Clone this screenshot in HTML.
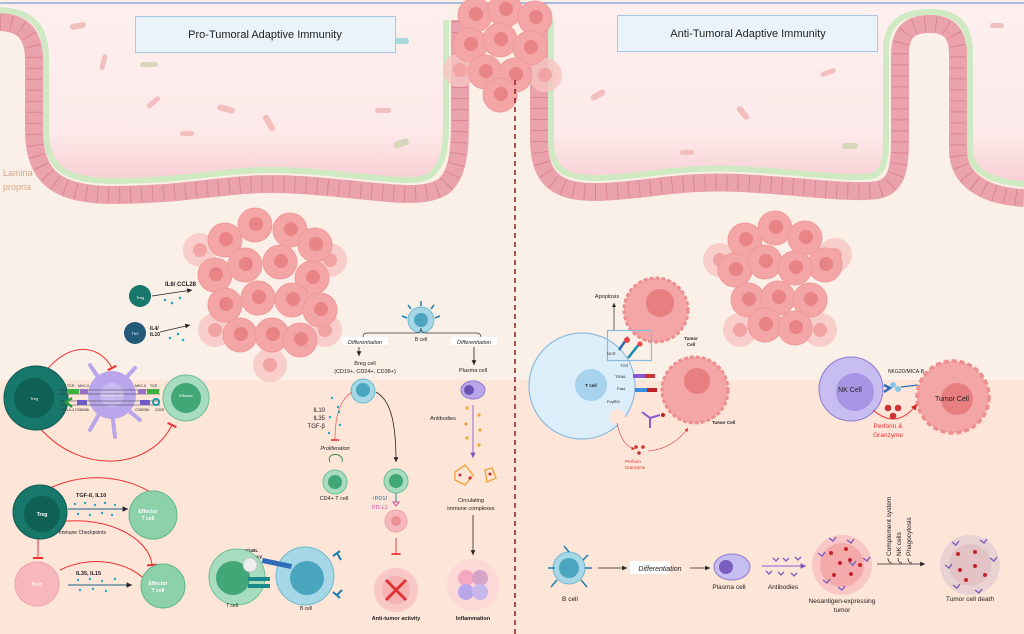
<!DOCTYPE html>
<html><head><meta charset="utf-8"><style>
html,body{margin:0;padding:0;background:#fbf0e8}
svg{display:block}
text{font-family:"Liberation Sans",sans-serif}
</style></head><body>
<svg width="1024" height="634" viewBox="0 0 1024 634" xmlns="http://www.w3.org/2000/svg">
<defs>
<linearGradient id="lum" x1="0" y1="0" x2="0" y2="1"><stop offset="0" stop-color="#fdf0ef"/><stop offset="0.72" stop-color="#fde9e9"/><stop offset="1" stop-color="#f8cdd3"/></linearGradient>
<g id="tc"><circle r="17" fill="#f4a5a5" stroke="#f09a9a" stroke-width="1"/><circle r="7" cx="1" cy="-1" fill="#e98486"/></g>
<g id="tcl"><circle r="17" fill="#f8c4c2" opacity="0.8"/><circle r="7" fill="#f2a4a4"/></g>
<marker id="ar" markerWidth="8" markerHeight="8" refX="6" refY="3" orient="auto"><path d="M0,0 L6,3 L0,6z" fill="#222"/></marker>
<marker id="arr" markerWidth="8" markerHeight="8" refX="6" refY="3" orient="auto"><path d="M0,0 L6,3 L0,6z" fill="#d22"/></marker>
<marker id="arp" markerWidth="8" markerHeight="8" refX="6" refY="3" orient="auto"><path d="M0,0 L6,3 L0,6z" fill="#7a4fc0"/></marker>
<marker id="tb" markerWidth="8" markerHeight="10" refX="2" refY="5" orient="auto"><path d="M2,0 L2,10" stroke="#e33" stroke-width="2"/></marker>
</defs>
<rect width="1024" height="634" fill="#fbf0e8"/>
<rect y="380" width="1024" height="254" fill="#fde5d8"/>
<!-- lumens -->
<path d="M0,8 C40,10 48,30 48,60 L48,130 C48,170 65,182 110,183 C200,183 230,168 300,173 C380,178 420,190 436,174 C446,162 448,150 448,120 L448,5 L0,5z" fill="url(#lum)"/>
<path d="M549,5 L549,140 C549,172 565,181 600,180 C650,178 680,168 740,171 C800,174 850,182 872,178 C886,174 888,160 888,140 L888,50 C888,15 910,10 930,10 C955,10 972,18 972,55 L972,150 C972,172 990,184 1024,186 L1024,5z" fill="url(#lum)"/>
<line x1="0" y1="3" x2="1024" y2="3" stroke="#8fa8d8" stroke-width="1.5"/>
<!-- green mucus -->
<g fill="none" stroke="#cfe9c2" stroke-width="6">
<path d="M0,10 C38,12 46,32 46,60 L46,130 C46,168 65,180 110,181 C200,181 230,166 300,171 C380,176 420,188 434,172 C444,160 446,150 446,120 L446,20"/>
<path d="M551,20 L551,140 C551,170 565,179 600,178 C650,176 680,166 740,169 C800,172 850,180 872,176 C884,172 886,160 886,140 L886,50 C886,17 910,12 930,12 C953,12 970,20 970,55 L970,150 C970,170 990,182 1024,184"/>
</g>
<!-- epithelium -->
<g fill="none" stroke="#eaa3ad" stroke-width="18">
<path id="ep1" d="M0,22 C26,23 34,38 34,60 L34,130 C34,178 58,194 110,195 C200,195 230,180 300,185 C380,190 420,202 444,186 C458,174 460,150 460,120 L460,20"/>
<path id="ep2" d="M539,20 L539,140 C539,182 560,193 600,192 C650,190 680,180 740,183 C800,186 850,194 878,190 C896,186 900,170 900,140 L900,55 C900,30 912,24 930,24 C948,24 958,32 958,55 L958,150 C958,180 985,196 1024,198"/>
</g>
<g fill="none" stroke="#d98591" stroke-width="16" stroke-dasharray="1 10">
<path d="M0,22 C26,23 34,38 34,60 L34,130 C34,178 58,194 110,195 C200,195 230,180 300,185 C380,190 420,202 444,186 C458,174 460,150 460,120 L460,20"/>
<path d="M539,20 L539,140 C539,182 560,193 600,192 C650,190 680,180 740,183 C800,186 850,194 878,190 C896,186 900,170 900,140 L900,55 C900,30 912,24 930,24 C948,24 958,32 958,55 L958,150 C958,180 985,196 1024,198"/>
</g>
<text x="3" y="176" font-size="9" fill="#d6a788">Lamina</text>
<text x="3" y="190" font-size="9" fill="#d6a788">propria</text>
<!-- bacteria -->
<g fill="#f0b4b4" opacity="0.8">
<rect x="70" y="23" width="16" height="6" rx="3" transform="rotate(-10 78 26)"/>
<rect x="95" y="60" width="16" height="5" rx="2.5" transform="rotate(-75 103 62)"/>
<rect x="145" y="100" width="16" height="5" rx="2.5" transform="rotate(-40 153 102)"/>
<rect x="217" y="106" width="18" height="6" rx="3" transform="rotate(15 226 109)"/>
<rect x="260" y="120" width="18" height="6" rx="3" transform="rotate(60 269 123)"/>
<rect x="180" y="131" width="14" height="5" rx="2.5"/>
<rect x="375" y="108" width="16" height="5" rx="2.5"/>
<rect x="590" y="92" width="16" height="6" rx="3" transform="rotate(-30 598 95)"/>
<rect x="735" y="110" width="16" height="6" rx="3" transform="rotate(50 743 113)"/>
<rect x="820" y="70" width="16" height="5" rx="2.5" transform="rotate(-20 828 72)"/>
<rect x="680" y="150" width="14" height="5" rx="2.5"/>
<rect x="990" y="23" width="14" height="5" rx="2.5"/>
</g>
<rect x="140" y="62" width="18" height="5" rx="2.5" fill="#d7d6bc"/>
<rect x="393" y="140" width="16" height="7" rx="3.5" fill="#d7d6bc" transform="rotate(-20 401 143)"/>
<rect x="393" y="38" width="16" height="6" rx="3" fill="#a8d8dc"/>
<rect x="842" y="143" width="16" height="6" rx="3" fill="#d7d6bc"/>
<!-- titles -->
<rect x="135.5" y="16.5" width="260" height="36" fill="#eaf3fa" stroke="#a9c6e4"/>
<text x="265" y="38" font-size="11" text-anchor="middle" fill="#222">Pro-Tumoral Adaptive Immunity</text>
<rect x="617.5" y="15.5" width="260" height="36" fill="#eaf3fa" stroke="#a9c6e4"/>
<text x="748" y="37" font-size="11" text-anchor="middle" fill="#222">Anti-Tumoral Adaptive Immunity</text>
<!-- top tumor -->
<g>
<use href="#tcl" x="460" y="70"/><use href="#tcl" x="545" y="75"/>
<use href="#tc" x="475" y="15"/><use href="#tc" x="505" y="10"/><use href="#tc" x="535" y="18"/>
<use href="#tc" x="470" y="45"/><use href="#tc" x="500" y="40"/><use href="#tc" x="530" y="48"/>
<use href="#tc" x="485" y="72"/><use href="#tc" x="515" y="75"/><use href="#tc" x="500" y="95"/>
</g>
<line x1="515" y1="80" x2="515" y2="634" stroke="#9a2b2b" stroke-width="1.6" stroke-dasharray="5 4"/>
<!-- left tumor cluster -->
<g>
<use href="#tcl" x="200" y="250"/><use href="#tcl" x="330" y="260"/><use href="#tcl" x="215" y="330"/><use href="#tcl" x="325" y="330"/><use href="#tcl" x="270" y="365"/>
<use href="#tc" x="225" y="240"/><use href="#tc" x="255" y="225"/><use href="#tc" x="290" y="230"/><use href="#tc" x="315" y="245"/>
<use href="#tc" x="215" y="275"/><use href="#tc" x="245" y="265"/><use href="#tc" x="280" y="262"/><use href="#tc" x="312" y="278"/>
<use href="#tc" x="225" y="305"/><use href="#tc" x="258" y="298"/><use href="#tc" x="292" y="300"/><use href="#tc" x="320" y="310"/>
<use href="#tc" x="240" y="335"/><use href="#tc" x="272" y="335"/><use href="#tc" x="300" y="340"/>
</g>
<!-- right tumor cluster -->
<g>
<use href="#tcl" x="720" y="260"/><use href="#tcl" x="835" y="255"/><use href="#tcl" x="740" y="330"/><use href="#tcl" x="820" y="330"/>
<use href="#tc" x="745" y="240"/><use href="#tc" x="775" y="228"/><use href="#tc" x="805" y="238"/><use href="#tc" x="825" y="265"/>
<use href="#tc" x="735" y="270"/><use href="#tc" x="765" y="262"/><use href="#tc" x="795" y="268"/>
<use href="#tc" x="748" y="300"/><use href="#tc" x="778" y="298"/><use href="#tc" x="810" y="300"/>
<use href="#tc" x="765" y="325"/><use href="#tc" x="795" y="328"/>
</g>
<!-- small Treg, Th2 -->
<circle cx="140" cy="296" r="11" fill="#17776a"/><text x="140" y="299" font-size="4" fill="#fff" text-anchor="middle">Treg</text>
<text x="165" y="286" font-size="6" font-weight="bold" fill="#222">IL6/ CCL28</text>
<line x1="152" y1="296" x2="192" y2="290" stroke="#222" stroke-width="0.8" marker-end="url(#ar)"/>
<circle cx="135" cy="333" r="11" fill="#235a79"/><text x="135" y="335" font-size="4" fill="#fff" text-anchor="middle">Th2</text>
<text x="150" y="330" font-size="5" font-weight="bold" fill="#222">IL4/</text><text x="150" y="336" font-size="5" font-weight="bold" fill="#222">IL10</text>
<line x1="160" y1="332" x2="190" y2="325" stroke="#222" stroke-width="0.8" marker-end="url(#ar)"/>
<g fill="#2aa7c4"><circle cx="165" cy="300" r="1.3"/><circle cx="172" cy="303" r="1.3"/><circle cx="180" cy="298" r="1.3"/><circle cx="170" cy="338" r="1.3"/><circle cx="178" cy="334" r="1.3"/><circle cx="183" cy="340" r="1.3"/></g>
<!-- Treg / DC / Effector -->
<path d="M45,372 C70,340 100,345 112,368" fill="none" stroke="#e33" stroke-width="1" marker-end="url(#tb)"/>
<path d="M40,428 C80,475 150,470 172,425" fill="none" stroke="#e33" stroke-width="1" marker-end="url(#tb)"/>
<circle cx="36" cy="398" r="32" fill="#17776a" stroke="#0e5a50"/><circle cx="34" cy="398" r="20" fill="#0f6055"/><text x="34" y="400" font-size="4" fill="#fff" text-anchor="middle">Treg</text>
<g stroke="#b9a6ea" stroke-width="4" stroke-linecap="round"><line x1="110" y1="395" x2="90" y2="365"/><line x1="110" y1="395" x2="135" y2="368"/><line x1="110" y1="395" x2="115" y2="437"/><line x1="110" y1="395" x2="90" y2="430"/><line x1="110" y1="395" x2="140" y2="420"/></g>
<circle cx="112" cy="395" r="24" fill="#b9a6ea"/><circle cx="112" cy="395" r="12" fill="#c9bbf0"/><text x="112" y="396" font-size="4" fill="#fff" text-anchor="middle">Dendritic cell</text>
<circle cx="186" cy="398" r="23" fill="#a8dcc0" stroke="#6cbf95"/><circle cx="186" cy="398" r="15" fill="#42a776"/><text x="186" y="397" font-size="4" fill="#fff" text-anchor="middle">Effector</text>
<g stroke="#333" stroke-width="0.6"><line x1="60" y1="390" x2="160" y2="390"/><line x1="60" y1="394" x2="160" y2="394"/><line x1="60" y1="401" x2="160" y2="401"/><line x1="60" y1="405" x2="160" y2="405"/></g>
<g><rect x="67" y="389" width="12" height="5" fill="#3fb13f"/><rect x="80" y="389" width="8" height="5" fill="#9b6fc6"/><rect x="138" y="389" width="8" height="5" fill="#9b6fc6"/><rect x="147" y="389" width="12" height="5" fill="#3fb13f"/><rect x="77" y="400" width="10" height="5" fill="#6d5cc6"/><rect x="140" y="400" width="10" height="5" fill="#6d5cc6"/><path d="M72,398 L66,402 L72,407" stroke="#2a9c3a" stroke-width="2.5" fill="none"/><circle cx="156" cy="402" r="3" fill="none" stroke="#1a9aa8" stroke-width="2"/></g>
<g font-size="3.5" fill="#222"><text x="67" y="387">TCR</text><text x="78" y="387">MHC-II</text><text x="135" y="387">MHC-II</text><text x="150" y="387">TCR</text><text x="62" y="411">CTLA-4</text><text x="75" y="411">CD80/86</text><text x="135" y="411">CD80/86</text><text x="155" y="411">CD28</text></g>
<!-- Treg / Effector lower -->
<path d="M50,488 C90,470 130,478 155,495" fill="none" stroke="#e33" stroke-width="1" marker-end="url(#tb)"/>
<path d="M58,522 C110,515 150,540 152,565" fill="none" stroke="#e33" stroke-width="1" marker-end="url(#tb)"/>
<path d="M60,570 C90,555 130,560 150,585" fill="none" stroke="#e33" stroke-width="1" marker-end="url(#tb)"/>
<line x1="38" y1="536" x2="38" y2="558" stroke="#e33" stroke-width="1" marker-end="url(#tb)"/>
<circle cx="40" cy="512" r="27" fill="#17776a" stroke="#0e5a50"/><circle cx="42" cy="514" r="18" fill="#0f6055"/><text x="42" y="516" font-size="5" fill="#fff" text-anchor="middle" font-weight="bold">Treg</text>
<text x="76" y="497" font-size="5.5" font-weight="bold" fill="#222">TGF-ß, IL10</text>
<line x1="68" y1="509" x2="128" y2="509" stroke="#1d5f8a" stroke-width="0.9" marker-end="url(#ar)"/>
<g fill="#2aa7c4"><circle cx="75" cy="504" r="1.2"/><circle cx="85" cy="503" r="1.2"/><circle cx="95" cy="505" r="1.2"/><circle cx="105" cy="503" r="1.2"/><circle cx="115" cy="505" r="1.2"/><circle cx="78" cy="514" r="1.2"/><circle cx="90" cy="515" r="1.2"/><circle cx="102" cy="513" r="1.2"/><circle cx="112" cy="515" r="1.2"/><circle cx="78" cy="580" r="1.2"/><circle cx="90" cy="579" r="1.2"/><circle cx="102" cy="581" r="1.2"/><circle cx="115" cy="579" r="1.2"/><circle cx="80" cy="590" r="1.2"/><circle cx="93" cy="589" r="1.2"/><circle cx="106" cy="591" r="1.2"/></g>
<circle cx="153" cy="515" r="24" fill="#8dd1ab" stroke="#5fb78a"/><text x="148" y="513" font-size="5" fill="#fff" text-anchor="middle" font-weight="bold">Effector</text><text x="148" y="520" font-size="5" fill="#fff" text-anchor="middle" font-weight="bold">T cell</text>
<text x="59" y="534" font-size="5" fill="#222">Immune Checkpoints</text>
<circle cx="37" cy="584" r="22" fill="#f6b8bd" stroke="#eea3a8"/><text x="37" y="586" font-size="5" fill="#fff" text-anchor="middle">Breg</text>
<text x="76" y="575" font-size="5.5" font-weight="bold" fill="#222">IL35, IL15</text>
<line x1="68" y1="585" x2="132" y2="585" stroke="#1d5f8a" stroke-width="0.9" marker-end="url(#ar)"/>
<circle cx="163" cy="586" r="22" fill="#8dd1ab" stroke="#5fb78a"/><text x="158" y="585" font-size="5" fill="#fff" text-anchor="middle" font-weight="bold">Effector</text><text x="158" y="592" font-size="5" fill="#fff" text-anchor="middle" font-weight="bold">T cell</text>
<!-- T cell / B cell CD40L -->
<text x="251" y="552" font-size="4.5" font-weight="bold" fill="#222" text-anchor="middle">CD40L</text><text x="251" y="558" font-size="4.5" font-weight="bold" fill="#222" text-anchor="middle">deficiency</text>
<circle cx="237" cy="577" r="28" fill="#a8dcc0" stroke="#6cbf95"/><circle cx="233" cy="578" r="17" fill="#42a776"/>
<circle cx="305" cy="576" r="29" fill="#a5d7e6" stroke="#6fb9cc"/><circle cx="307" cy="578" r="17" fill="#4aa6bf"/>
<circle cx="250" cy="565" r="7" fill="#eee" stroke="#bbb" stroke-dasharray="2 1"/>
<rect x="262" y="561" width="30" height="5" fill="#2f6dba" transform="rotate(12 277 563)"/>
<rect x="248" y="577" width="22" height="4" fill="#1a8a8a"/><rect x="248" y="584" width="22" height="4" fill="#1a8a8a"/>
<g stroke="#1a7fb0" stroke-width="2" fill="none"><path d="M333,556 L340,551 M337,553 L341,560"/><path d="M333,592 L340,598 M337,595 L342,590"/></g>
<text x="232" y="607" font-size="5" fill="#222" text-anchor="middle">T cell</text><text x="306" y="610" font-size="5" fill="#222" text-anchor="middle">B cell</text>
<!-- B cell top -->
<circle cx="421" cy="320" r="13" fill="#a5d7e6" stroke="#6fb9cc"/><circle cx="421" cy="320" r="7" fill="#4aa6bf"/>
<g stroke="#1a7fb0" stroke-width="1.5"><line x1="421" y1="306" x2="421" y2="301"/><line x1="435" y1="318" x2="440" y2="316"/><line x1="407" y1="318" x2="402" y2="316"/><line x1="411" y1="309" x2="408" y2="305"/><line x1="431" y1="309" x2="434" y2="305"/></g>
<text x="421" y="341" font-size="5" fill="#222" text-anchor="middle">B cell</text>
<path d="M363,344 L363,337 Q363,333 367,333 L416,333 Q421,333 421,328 Q421,333 426,333 L476,333 Q481,333 481,337 L481,344" fill="none" stroke="#333" stroke-width="0.7"/>
<rect x="342" y="337" width="46" height="8" fill="#fff"/><text x="365" y="344" font-size="5.5" font-style="italic" fill="#222" text-anchor="middle">Differentiation</text>
<rect x="451" y="337" width="46" height="8" fill="#fff"/><text x="474" y="344" font-size="5.5" font-style="italic" fill="#222" text-anchor="middle">Differentiation</text>
<line x1="359" y1="347" x2="359" y2="356" stroke="#222" stroke-width="0.8" marker-end="url(#ar)"/>
<line x1="474" y1="347" x2="474" y2="365" stroke="#222" stroke-width="0.8" marker-end="url(#ar)"/>
<text x="365" y="365" font-size="5.5" fill="#222" text-anchor="middle">Breg cell</text><text x="365" y="373" font-size="5.5" fill="#222" text-anchor="middle">(CD19+, CD24+, CD38+)</text>
<text x="473" y="372" font-size="5.5" fill="#222" text-anchor="middle">Plasma cell</text>
<circle cx="363" cy="391" r="12" fill="#a5d7e6" stroke="#6fb9cc"/><circle cx="363" cy="390" r="7" fill="#4aa6bf"/>
<path d="M352,392 C340,400 335,415 335,440" fill="none" stroke="#e66" stroke-width="0.8" marker-end="url(#tb)"/>
<g fill="#2aa7c4"><circle cx="332" cy="398" r="1.2"/><circle cx="338" cy="407" r="1.2"/><circle cx="330" cy="417" r="1.2"/><circle cx="340" cy="425" r="1.2"/><circle cx="329" cy="433" r="1.2"/><circle cx="339" cy="412" r="1.2"/></g>
<text x="325" y="412" font-size="6" fill="#222" text-anchor="end">IL10</text><text x="325" y="420" font-size="6" fill="#222" text-anchor="end">IL35</text><text x="325" y="428" font-size="6" fill="#222" text-anchor="end">TGF-β</text>
<text x="335" y="450" font-size="5.5" font-style="italic" fill="#222" text-anchor="middle">Proliferation</text>
<path d="M330,462 C325,452 345,452 342,462" fill="none" stroke="#2a8a4a" stroke-width="0.9"/>
<circle cx="335" cy="482" r="12" fill="#a8dcc0" stroke="#6cbf95"/><circle cx="335" cy="482" r="7" fill="#42a776"/>
<text x="334" y="500" font-size="5.5" fill="#222" text-anchor="middle">CD4+ T cell</text>
<path d="M376,392 C390,400 396,420 396,462" fill="none" stroke="#222" stroke-width="0.8" marker-end="url(#ar)"/>
<circle cx="396" cy="481" r="12" fill="#a8dcc0" stroke="#6cbf95"/><circle cx="396" cy="481" r="7" fill="#42a776"/>
<line x1="396" y1="493" x2="396" y2="502" stroke="#1a8a8a"/><path d="M393,502 L399,502 L396,506z" fill="none" stroke="#d64ca0"/>
<text x="372" y="500" font-size="5.5" fill="#17a" ><tspan fill="#222">↑</tspan>PD1<tspan fill="#222">/</tspan></text><text x="372" y="509" font-size="5.5" fill="#d64ca0">PD-L1</text>
<circle cx="396" cy="521" r="11" fill="#f6b8bd" stroke="#eea3a8"/><circle cx="396" cy="521" r="5" fill="#ea8f96"/>
<line x1="396" y1="538" x2="396" y2="554" stroke="#e33" stroke-width="0.9" marker-end="url(#tb)"/>
<circle cx="396" cy="590" r="22" fill="#f9c7c5"/><circle cx="396" cy="590" r="14" fill="#f6b3b3"/>
<path d="M386,580 L406,600 M406,580 L386,600" stroke="#d33" stroke-width="3"/>
<text x="396" y="620" font-size="5.5" fill="#222" text-anchor="middle" font-weight="bold">Anti-tumor activity</text>
<ellipse cx="473" cy="390" rx="12" ry="9" fill="#b9a6ea" stroke="#8e7ad2"/><circle cx="469" cy="390" r="5" fill="#6b52b0"/>
<text x="443" y="420" font-size="5.5" fill="#222" text-anchor="middle">Antibodies</text>
<line x1="473" y1="405" x2="473" y2="458" stroke="#8a5ad0" stroke-width="0.9" marker-end="url(#arp)"/>
<g fill="#f2a53a"><circle cx="467" cy="408" r="1.6"/><circle cx="479" cy="415" r="1.6"/><circle cx="466" cy="424" r="1.6"/><circle cx="480" cy="430" r="1.6"/><circle cx="467" cy="438" r="1.6"/><circle cx="479" cy="445" r="1.6"/></g>
<g fill="none" stroke="#f2a53a" stroke-width="1.4"><path d="M455,472 L465,465 L473,475 L465,485 L455,480z"/><path d="M485,470 L492,468 L496,478 L487,482z"/></g>
<g fill="#c0282a"><circle cx="460" cy="475" r="1.5"/><circle cx="470" cy="478" r="1.5"/><circle cx="490" cy="474" r="1.5"/></g>
<text x="471" y="502" font-size="5.5" fill="#222" text-anchor="middle">Circulating</text><text x="471" y="510" font-size="5.5" fill="#222" text-anchor="middle">immune complexes</text>
<line x1="473" y1="515" x2="473" y2="555" stroke="#222" stroke-width="0.8" marker-end="url(#ar)"/>
<circle cx="473" cy="585" r="26" fill="#fbd3d5" opacity="0.7"/>
<circle cx="466" cy="578" r="8" fill="#f4a7c0"/><circle cx="480" cy="578" r="8" fill="#d8a3c8"/><circle cx="466" cy="592" r="8" fill="#b9a6ea"/><circle cx="480" cy="592" r="8" fill="#c7b7ea"/>
<text x="473" y="620" font-size="5.5" fill="#222" text-anchor="middle" font-weight="bold">Inflammation</text>
<!-- RIGHT: T cell cytotoxicity -->
<text x="607" y="298" font-size="5.5" fill="#222" text-anchor="middle">Apoptosis</text>
<line x1="614" y1="330" x2="614" y2="303" stroke="#222" stroke-width="0.7" marker-end="url(#ar)"/>
<circle cx="656" cy="310" r="32" fill="#f4a5a5" stroke="#ee8f8f" stroke-dasharray="4 2" stroke-width="3"/><circle cx="660" cy="303" r="14" fill="#e77e80"/>
<text x="691" y="340" font-size="4.5" font-weight="bold" fill="#222" text-anchor="middle">Tumor</text><text x="691" y="346" font-size="4.5" font-weight="bold" fill="#222" text-anchor="middle">Cell</text>
<circle cx="582" cy="386" r="53" fill="#dceefa" stroke="#8cbbe0" stroke-width="1.2"/>
<circle cx="617" cy="417" r="8" fill="#fde5d8"/>
<circle cx="591" cy="385" r="16" fill="#a8d3ee"/><text x="591" y="387" font-size="4.5" font-weight="bold" fill="#222" text-anchor="middle">T cell</text>
<rect x="607.5" y="330.5" width="44" height="30" fill="none" stroke="#8cbbe0" stroke-width="1.2"/>
<g stroke-width="2.5"><line x1="619" y1="350" x2="628" y2="337" stroke="#2f6dba"/><line x1="628" y1="358" x2="640" y2="343" stroke="#1a8aa8"/></g>
<circle cx="627" cy="340" r="3" fill="#e44"/><circle cx="640" cy="344" r="2.5" fill="#e44"/>
<g font-size="4" fill="#222"><text x="607" y="355">NCR</text><text x="620" y="367">TCR</text><text x="615" y="378">TRAIL</text><text x="617" y="390">FasL</text><text x="607" y="403">FcγRIII</text></g>
<circle cx="695" cy="390" r="33" fill="#f4a5a5" stroke="#ee8f8f" stroke-dasharray="4 2" stroke-width="3"/><circle cx="697" cy="381" r="13" fill="#e77e80"/>
<g><rect x="633" y="374" width="12" height="4" fill="#8a5ad0"/><rect x="645" y="374" width="10" height="4" fill="#c33"/><rect x="635" y="388" width="12" height="4" fill="#3a8ee0"/><rect x="647" y="388" width="10" height="4" fill="#b22"/></g>
<path d="M642,412 L650,418 L650,428 M650,418 L660,415" stroke="#8a5ad0" stroke-width="2" fill="none"/><circle cx="663" cy="415" r="2" fill="#b22"/>
<text x="712" y="424" font-size="4.5" font-weight="bold" fill="#222">Tumor Cell</text>
<path d="M617,423 C620,440 628,448 635,449" fill="none" stroke="#c33" stroke-width="0.6" marker-end="url(#arr)"/>
<path d="M648,451 C665,450 680,440 688,428" fill="none" stroke="#c33" stroke-width="0.6" marker-end="url(#arr)"/>
<g fill="#c33"><circle cx="636" cy="447" r="1.8"/><circle cx="643" cy="447" r="1.8"/><circle cx="639" cy="453" r="1.8"/></g>
<text x="633" y="463" font-size="4.5" fill="#d33" text-anchor="middle">Perforin</text><text x="635" y="469" font-size="4.5" fill="#d33" text-anchor="middle">Granzyme</text>
<!-- NK cell -->
<circle cx="851" cy="389" r="32" fill="#c7bdf0" stroke="#8e7ad2"/><circle cx="855" cy="392" r="19" fill="#a795e4"/>
<text x="850" y="392" font-size="7" fill="#222" text-anchor="middle">NK Cell</text>
<text x="906" y="373" font-size="5" fill="#222" text-anchor="middle">NKG2D/MICA-B</text>
<path d="M884,385 L890,388 L884,392" stroke="#2f6dba" stroke-width="2.5" fill="none"/><circle cx="893" cy="385" r="3" fill="#8ac6ea"/><circle cx="898" cy="389" r="3" fill="#8ac6ea"/>
<line x1="901" y1="387" x2="918" y2="385" stroke="#2f6dba" stroke-width="1.2"/>
<circle cx="953" cy="397" r="36" fill="#f4a5a5" stroke="#ee8f8f" stroke-dasharray="5 3" stroke-width="3.5"/><circle cx="957" cy="399" r="16" fill="#e77e80"/>
<text x="952" y="401" font-size="7" fill="#222" text-anchor="middle">Tumor Cell</text>
<path d="M873,410 C890,425 905,420 917,404" fill="none" stroke="#e33" stroke-width="1" marker-end="url(#arr)"/>
<g fill="#c33"><circle cx="888" cy="408" r="3.3"/><circle cx="898" cy="408" r="3.3"/><circle cx="893" cy="416" r="3.3"/></g>
<text x="888" y="428" font-size="6.5" fill="#e33" text-anchor="middle">Perforin &amp;</text><text x="888" y="437" font-size="6.5" fill="#e33" text-anchor="middle">Granzyme</text>
<!-- bottom right flow -->
<circle cx="569" cy="568" r="16" fill="#a5d7e6" stroke="#6fb9cc"/><circle cx="569" cy="568" r="10" fill="#4aa6bf"/>
<g stroke="#1a7fb0" stroke-width="1.5"><line x1="569" y1="552" x2="564" y2="546"/><line x1="583" y1="560" x2="588" y2="555"/><line x1="555" y1="568" x2="548" y2="568"/><line x1="585" y1="568" x2="592" y2="568"/><line x1="557" y1="580" x2="551" y2="587"/><line x1="581" y1="580" x2="587" y2="587"/></g>
<text x="570" y="601" font-size="6.5" fill="#222" text-anchor="middle">B cell</text>
<line x1="598" y1="568" x2="627" y2="568" stroke="#222" stroke-width="0.8" marker-end="url(#ar)"/>
<rect x="630" y="561" width="40" height="13" fill="#fff"/><text x="660" y="571" font-size="7" font-style="italic" fill="#222" text-anchor="middle">Differentiation</text>
<line x1="690" y1="568" x2="710" y2="568" stroke="#222" stroke-width="0.8" marker-end="url(#ar)"/>
<ellipse cx="732" cy="567" rx="18" ry="13" fill="#c7bdf0" stroke="#8e7ad2"/><circle cx="726" cy="567" r="7" fill="#7a5ec0"/>
<text x="729" y="589" font-size="6.5" fill="#222" text-anchor="middle">Plasma cell</text>
<line x1="762" y1="566" x2="806" y2="566" stroke="#8a5ad0" stroke-width="0.9" marker-end="url(#arp)"/>
<g fill="none" stroke="#7a5ec0" stroke-width="1.3"><path d="M773,558 l3,3 l3,-3"/><path d="M783,558 l3,3 l3,-3"/><path d="M795,557 l3,3 l3,-3"/><path d="M766,571 l3,3 l3,-3"/><path d="M778,572 l3,3 l3,-3"/><path d="M791,573 l3,3 l3,-3"/></g>
<text x="783" y="589" font-size="6.5" fill="#222" text-anchor="middle">Antibodies</text>
<circle cx="842" cy="565" r="30" fill="#f9c7c5"/><circle cx="842" cy="565" r="22" fill="#f4aaaa"/>
<g fill="#c3242a"><circle cx="831" cy="553" r="2"/><circle cx="846" cy="549" r="2"/><circle cx="840" cy="563" r="2"/><circle cx="850" cy="560" r="2"/><circle cx="834" cy="575" r="2"/><circle cx="851" cy="574" r="2"/><circle cx="860" cy="565" r="2"/></g>
<g fill="none" stroke="#7a5ec0" stroke-width="1.4"><path d="M818,553 l4,3 l3,-4"/><path d="M829,538 l4,3 l3,-4"/><path d="M847,540 l4,3 l3,-4"/><path d="M863,558 l4,3 l3,-4"/><path d="M823,580 l4,3 l3,-4"/><path d="M838,587 l4,3 l3,-4"/><path d="M849,562 l4,3 l3,-4"/></g>
<text x="842" y="603" font-size="6.5" fill="#222" text-anchor="middle">Neoantigen-expressing</text><text x="842" y="612" font-size="6.5" fill="#222" text-anchor="middle">tumor</text>
<line x1="877" y1="564" x2="925" y2="564" stroke="#222" stroke-width="0.8" marker-end="url(#ar)"/>
<g stroke="#222" stroke-width="0.7" fill="none"><path d="M888,558 Q888,563 892,563"/><path d="M898,558 Q898,563 902,563"/><path d="M908,558 Q908,563 912,563"/></g>
<text transform="translate(891,556) rotate(-90)" font-size="6.5" fill="#222">Complement system</text>
<text transform="translate(901,556) rotate(-90)" font-size="6.5" fill="#222">NK cells</text>
<text transform="translate(911,556) rotate(-90)" font-size="6.5" fill="#222">Phagocytosis</text>
<circle cx="970" cy="565" r="30" fill="#e9d2d2"/><circle cx="970" cy="565" r="21" fill="#e3c3c6"/>
<g fill="#c3242a"><circle cx="958" cy="554" r="2"/><circle cx="975" cy="552" r="2"/><circle cx="960" cy="570" r="2"/><circle cx="975" cy="566" r="2"/><circle cx="985" cy="575" r="2"/><circle cx="966" cy="580" r="2"/></g>
<g fill="none" stroke="#7a5ec0" stroke-width="1.4"><path d="M952,542 l4,3 l3,-4"/><path d="M980,540 l4,3 l3,-4"/><path d="M945,565 l4,3 l3,-4"/><path d="M990,558 l4,3 l3,-4"/><path d="M953,585 l4,3 l3,-4"/><path d="M975,590 l4,3 l3,-4"/></g>
<text x="970" y="601" font-size="6.5" fill="#222" text-anchor="middle">Tumor cell death</text>
</svg>
</body></html>
